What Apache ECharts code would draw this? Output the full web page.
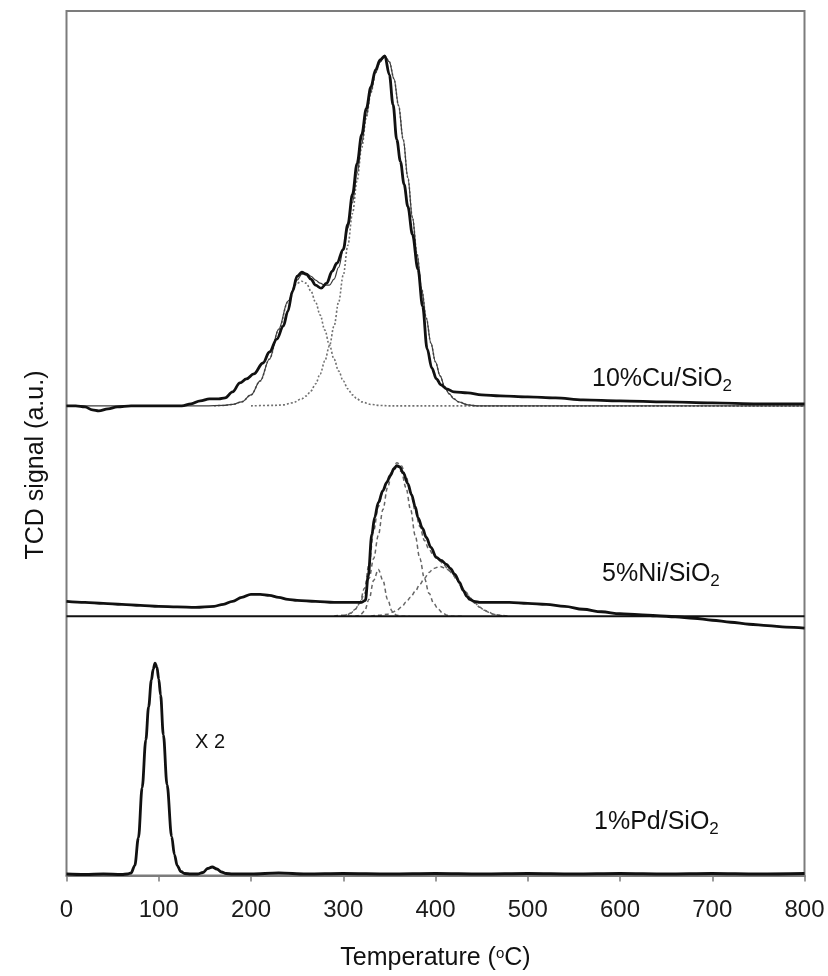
<!DOCTYPE html>
<html>
<head>
<meta charset="utf-8">
<script src="https://cdn.jsdelivr.net/npm/echarts@6/dist/echarts.min.js"></script>
<style>
  html, body { margin: 0; padding: 0; background: #ffffff; }
  #chart { width: 828px; height: 976px; }
</style>
</head>
<body>
<div id="chart"></div>
<script>
// Temperature axis (°C)
const tempMin = 0;
const tempMax = 800;
const tempStep = 100;

// Vertical offsets that stack the three TPR profiles (arbitrary signal units)
const cuOffset = 471;
const niOffset = 260;
const pdOffset = 1;

// 10%Cu/SiO2: measured TCD signal [T, signal]
const cuMeasured = [
  [0,0],[10,0],[20,-1],[28,-4],[35,-5],[45,-3],[55,-1],[70,0],[90,0],[110,0],[125,0],
  [135,2],[145,5],[155,7],[165,7],[172,8],[180,14],[188,23],[195,27],[203,32],[213,43],
  [220,54],[228,67],[235,80],[240,95],[245,115],[250,130],[255,134],[260,132],[265,127],
  [270,121],[276,118],[282,123],[288,135],[293,143],[300,157],[305,182],[310,212],
  [315,243],[320,272],[325,298],[330,320],[335,337],[340,347],[345,351],[350,332],
  [354,302],[358,267],[362,245],[366,222],[370,200],[375,172],[381,137],[386,100],
  [391,57],[396,38],[401,27],[406,21],[412,17],[420,14],[435,13],[450,11],[470,10],
  [500,9],[530,8],[560,6],[600,5],[650,4],[700,3],[750,2],[800,2]
];
// 10%Cu/SiO2: fitted envelope
const cuFit = [
  [0,0],[100,0],[150,0],[170,0.5],[180,1.5],[190,4],[200,11],[210,25],[220,47],[230,77],
  [240,105],[250,126],[255,132],[260,133],[265,130],[270,126],[275,123],[280,121],
  [285,121],[290,127],[295,139],[300,156],[305,178],[310,204],[315,233],[320,263],
  [325,291],[330,315],[335,334],[340,345],[345,351],[350,345],[355,328],[360,301],
  [365,267],[370,229],[375,189],[380,152],[385,117],[390,88],[395,63],[400,44],[405,30],
  [410,19],[415,12],[420,7],[425,4],[435,1],[445,0],[800,0]
];
// 10%Cu/SiO2: low-temperature component
const cuPeak1 = [
  [160,0],[170,0.4],[180,1.4],[190,4],[200,11],[210,25],[220,47],[230,76],[240,104],
  [250,123],[255,125],[260,123],[265,115],[270,104],[275,91],[280,76],[285,61],[290,47],
  [295,35],[300,25],[305,17],[310,11],[315,7],[320,4],[330,1.4],[340,0.4],[350,0],[800,0]
];
// 10%Cu/SiO2: high-temperature component
const cuPeak2 = [
  [200,0],[225,0.5],[235,1],[245,3],[255,7],[260,10],[265,15],[270,22],[275,32],[280,45],
  [285,60],[290,80],[295,104],[300,131],[305,161],[310,193],[315,226],[320,259],[325,289],
  [330,314],[335,334],[340,345],[345,351],[350,345],[355,328],[360,301],[365,267],
  [370,229],[375,189],[380,152],[385,117],[390,88],[395,63],[400,44],[405,30],[410,19],
  [415,12],[420,7],[425,4],[435,1],[445,0],[800,0]
];

// 5%Ni/SiO2: measured TCD signal
const niMeasured = [
  [0,15],[20,14],[40,13],[60,12],[80,11],[100,10],[120,9.5],[140,9],[160,10],[170,12],
  [180,15],[190,19],[200,22],[210,22],[220,21],[230,19],[240,17],[250,16],[270,15],
  [290,14],[310,14],[320,14],[324,16],[327,40],[331,82],[334,99],[338,114],[343,126],
  [347,134],[351,141],[355,148],[358,151],[361,150],[365,144],[370,133],[374,122],
  [378,110],[381,99],[386,88],[390,79],[395,69],[401,59],[406,56],[412,52],[416,48],
  [421,42],[426,34],[430,26],[434,20],[437,17],[442,15],[448,14],[460,14],[480,14],
  [500,13],[520,12],[540,10],[560,7],[580,4.5],[600,2.5],[620,1.5],[640,0.5],[660,-0.5],
  [680,-2],[700,-4],[720,-6],[740,-8],[760,-9.5],[780,-11],[800,-12]
];
// 5%Ni/SiO2: horizontal reference line
const niBaseline = [[0,0],[800,0]];
// 5%Ni/SiO2: deconvoluted components and their sum
const niPeakA = [
  [305,0],[313,0],[318,1],[323,5],[328,17],[333,36],[338,47],[343,36],[348,17],[353,5],
  [358,1],[363,0],[372,0]
];
const niPeakB = [
  [290,0],[298,1],[303,1],[308,3],[313,7],[318,13],[323,23],[328,38],[333,58],[338,81],
  [343,107],[348,129],[353,145],[358,151],[363,145],[368,129],[373,107],[378,81],
  [383,58],[388,38],[393,23],[398,13],[403,7],[408,3],[413,1],[418,0],[430,0]
];
const niPeakC = [
  [330,0],[338,1],[348,2],[353,4],[358,6],[363,9],[368,14],[373,19],[378,25],[383,32],
  [388,38],[393,44],[398,48],[405,50],[413,47],[418,43],[423,37],[428,30],[433,24],
  [438,18],[443,13],[448,9],[453,6],[458,4],[463,2],[470,1],[480,0]
];
const niFit = [
  [300,0],[308,3],[313,7],[318,14],[323,28],[328,52],[333,86],[338,110],[343,125],
  [348,136],[353,146],[358,154],[363,151],[368,140],[373,124],[378,106],[383,90],
  [388,76],[393,67],[398,61],[403,57],[408,53],[413,48],[418,43],[423,37],[428,30],
  [433,24],[438,18],[443,13],[448,9],[453,6],[458,4],[463,2],[468,1],[475,0]
];

// 1%Pd/SiO2: measured TCD signal (shown x 2)
const pdMeasured = [
  [0,0.5],[20,0],[40,0.5],[60,0],[66,0.5],[70,1.5],[74,9],[78,37],[82,87],[86,135],
  [89,168],[92,195],[94,206],[96,212],[98,208],[100,196],[102,180],[105,140],[109,90],
  [114,38],[117,20],[120,9],[124,3],[128,1],[135,0.5],[142,0.5],[148,2],[153,6],
  [158,7.5],[163,5.5],[168,2.5],[173,1],[180,0.5],[200,0.5],[230,1.5],[260,0.5],
  [300,1],[350,0.5],[400,1],[450,0.5],[500,1],[550,0.5],[600,1],[650,0.5],[700,1],
  [750,0.5],[800,1]
];

const sampleNames = ['10%Cu/SiO', '5%Ni/SiO', '1%Pd/SiO'];
const scaleNote = 'X 2';

const FONT = '"Liberation Sans", Arial, Helvetica, sans-serif';
const INK = '#111111';
const FRAME = '#7c7c7c';

function shift(points, offset) {
  return points.map(p => [p[0], p[1] + offset]);
}

function curve(name, points, offset, style, z) {
  return {
    name: name,
    type: 'line',
    data: shift(points, offset),
    showSymbol: false,
    smooth: 0.35,
    smoothMonotone: 'x',
    silent: true,
    z: z,
    lineStyle: style
  };
}

const measuredStyle = { color: INK, width: 2.8 };
const fitStyle = { color: '#3c3c3c', width: 1.2 };
const dottedStyle = { color: '#707070', width: 1.6, type: [2, 2] };
const dashedStyle = { color: '#666666', width: 1.5, type: [4, 3] };

function sampleLabel(text, x, y) {
  return {
    type: 'text',
    left: x,
    top: y,
    style: {
      text: '{m|' + text + '}{s|2}',
      rich: {
        m: { fontFamily: FONT, fontSize: 25, lineHeight: 30, fill: INK, verticalAlign: 'middle' },
        s: { fontFamily: FONT, fontSize: 17, lineHeight: 14, fill: INK, verticalAlign: 'bottom' }
      }
    }
  };
}

const chart = echarts.init(document.getElementById('chart'), null, { renderer: 'canvas' });

chart.setOption({
  animation: false,
  backgroundColor: '#ffffff',
  grid: {
    left: 66.5,
    right: 23.5,
    top: 11,
    bottom: 98,
    show: true,
    borderColor: FRAME,
    borderWidth: 2,
    backgroundColor: 'transparent'
  },
  xAxis: {
    type: 'value',
    min: tempMin,
    max: tempMax,
    interval: tempStep,
    name: '{t|Temperature (}{o|o}{t|C)}',
    nameLocation: 'middle',
    nameGap: 68,
    nameTextStyle: {
      rich: {
        t: { fontFamily: FONT, fontSize: 25, color: INK, lineHeight: 30 },
        o: { fontFamily: FONT, fontSize: 15, color: INK, lineHeight: 30, padding: [0, 0, 10, 0] }
      }
    },
    axisLine: { show: true, lineStyle: { color: FRAME, width: 2 } },
    axisTick: { show: true, inside: false, length: 6, lineStyle: { color: FRAME, width: 1.5 } },
    axisLabel: { fontFamily: FONT, fontSize: 24, color: '#1a1a1a', margin: 23 },
    splitLine: { show: false }
  },
  yAxis: {
    type: 'value',
    min: 0,
    max: 867,
    axisLine: { show: false },
    axisTick: { show: false },
    axisLabel: { show: false },
    splitLine: { show: false }
  },
  graphic: [
    {
      type: 'text',
      x: 36,
      y: 465,
      rotation: Math.PI / 2,
      style: {
        text: 'TCD signal (a.u.)',
        fontFamily: FONT,
        fontSize: 25,
        fill: INK,
        align: 'center',
        verticalAlign: 'middle'
      }
    },
    sampleLabel(sampleNames[0], 592, 367),
    sampleLabel(sampleNames[1], 602, 562),
    sampleLabel(sampleNames[2], 594, 810),
    {
      type: 'text',
      left: 195,
      top: 732,
      style: { text: scaleNote, fontFamily: FONT, fontSize: 20, fill: INK }
    }
  ],
  series: [
    curve('Cu low-T component', cuPeak1, cuOffset, dottedStyle, 2),
    curve('Cu high-T component', cuPeak2, cuOffset, dottedStyle, 2),
    curve('Cu fit', cuFit, cuOffset, fitStyle, 3),
    curve('10%Cu/SiO2', cuMeasured, cuOffset, measuredStyle, 4),
    curve('Ni reference', niBaseline, niOffset, { color: INK, width: 2.2 }, 3),
    curve('Ni component A', niPeakA, niOffset, dashedStyle, 2),
    curve('Ni component B', niPeakB, niOffset, dashedStyle, 2),
    curve('Ni component C', niPeakC, niOffset, dashedStyle, 2),
    curve('Ni fit', niFit, niOffset, dashedStyle, 2),
    curve('5%Ni/SiO2', niMeasured, niOffset, measuredStyle, 4),
    curve('1%Pd/SiO2', pdMeasured, pdOffset, measuredStyle, 4)
  ]
});
</script>
</body>
</html>
